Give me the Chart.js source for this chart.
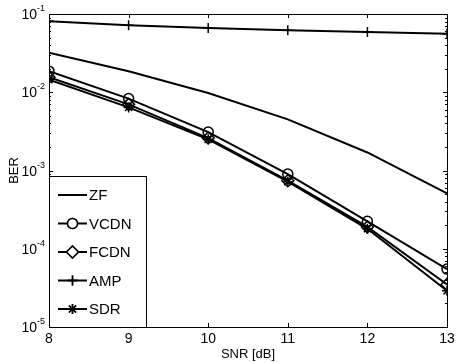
<!DOCTYPE html>
<html><head><meta charset="utf-8">
<script src="https://cdn.jsdelivr.net/npm/chart.js@4/dist/chart.umd.min.js"></script>
<style>html,body{margin:0;padding:0;background:#fff}#wrap{width:463px;height:363px}</style>
</head><body><div id="wrap"><canvas id="c" width="463" height="363"></canvas></div>
<script>
const snr = [8, 9, 10, 11, 12, 13];
const zf   = [0.032, 0.0186, 0.0098, 0.0045, 0.0017, 0.00051];
const vcdn = [0.0186, 0.0083, 0.0031, 0.00090, 0.000224, 0.000055];
const fcdn = [0.0156, 0.0070, 0.0026, 0.00074, 0.00019, 0.000035];
const amp  = [0.081, 0.072, 0.066, 0.062, 0.059, 0.056];
const sdr  = [0.0145, 0.0064, 0.0025, 0.00072, 0.00018, 0.000029];
const xTicks = [8, 9, 10, 11, 12, 13];
const yExps = [-1, -2, -3, -4, -5];
const seriesNames = ['ZF', 'VCDN', 'FCDN', 'AMP', 'SDR'];

const FONT = '"Liberation Sans", Arial, sans-serif';
function mk(name, vals, style, rad) {
  return {
    label: name,
    data: snr.map((x, i) => ({x: x, y: vals[i]})),
    borderColor: '#000', backgroundColor: 'rgba(0,0,0,0)',
    borderWidth: 2, pointStyle: style, pointRadius: rad,
    pointBorderColor: '#000', pointBackgroundColor: 'rgba(0,0,0,0)',
    pointBorderWidth: 1.5, tension: 0, fill: false
  };
}
const datasets = [
  mk(seriesNames[0], zf, false, 0),
  mk(seriesNames[1], vcdn, 'circle', 5),
  mk(seriesNames[2], fcdn, 'rectRot', 6),
  mk(seriesNames[3], amp, 'cross', 5),
  mk(seriesNames[4], sdr, 'star', 5)
];

const axesPlugin = {
  id: 'axesPlugin',
  afterDatasetsDraw(chart) {
    const ctx = chart.ctx, a = chart.chartArea;
    const xs = chart.scales.x, ys = chart.scales.y;
    ctx.save();
    ctx.strokeStyle = '#000'; ctx.lineWidth = 1;
    ctx.beginPath();
    xTicks.forEach(t => {
      const px = Math.round(xs.getPixelForValue(t)) + 0.5;
      ctx.moveTo(px, a.bottom); ctx.lineTo(px, a.bottom - 4);
      ctx.moveTo(px, a.top); ctx.lineTo(px, a.top + 4);
    });
    yExps.forEach(e => {
      const py = Math.round(ys.getPixelForValue(Math.pow(10, e))) + 0.5;
      ctx.moveTo(a.left, py); ctx.lineTo(a.left + 4, py);
      ctx.moveTo(a.right, py); ctx.lineTo(a.right - 4, py);
      if (e > -5) {
        for (let m = 2; m <= 9; m++) {
          const v = m * Math.pow(10, e - 1);
          const pm = Math.round(ys.getPixelForValue(v)) + 0.5;
          ctx.moveTo(a.left, pm); ctx.lineTo(a.left + 2, pm);
          ctx.moveTo(a.right, pm); ctx.lineTo(a.right - 2, pm);
        }
      }
    });
    ctx.stroke();
    ctx.strokeRect(Math.round(a.left) + 0.5, Math.round(a.top) + 0.5,
                   Math.round(a.right - a.left), Math.round(a.bottom - a.top));
    ctx.fillStyle = '#000';
    ctx.font = '14px ' + FONT;
    ctx.textAlign = 'center'; ctx.textBaseline = 'top';
    xTicks.forEach(t => ctx.fillText(String(t), xs.getPixelForValue(t), a.bottom + 5));
    yExps.forEach(e => {
      const py = ys.getPixelForValue(Math.pow(10, e));
      ctx.font = '9px ' + FONT;
      const sup = String(e);
      const sw = ctx.measureText(sup).width;
      ctx.textAlign = 'left'; ctx.textBaseline = 'alphabetic';
      const right = a.left - 4;
      ctx.fillText(sup, right - sw, py - 3);
      ctx.font = '14px ' + FONT;
      ctx.textAlign = 'right';
      ctx.fillText('10', right - sw, py + 5);
    });
    ctx.font = '13px ' + FONT;
    ctx.textAlign = 'center'; ctx.textBaseline = 'alphabetic';
    ctx.fillText('SNR [dB]', (a.left + a.right) / 2, 358);
    ctx.save();
    ctx.translate(18, (a.top + a.bottom) / 2);
    ctx.rotate(-Math.PI / 2);
    ctx.fillText('BER', 0, 0);
    ctx.restore();
    // legend
    const lx = Math.round(a.left) + 0.5, ly = 176.5, lw = 97, lh = Math.round(a.bottom) - 176;
    ctx.fillStyle = '#fff';
    ctx.fillRect(lx, ly, lw, lh);
    ctx.lineWidth = 1;
    ctx.strokeRect(lx, ly, lw, lh);
    const rows = [195, 223.5, 252, 280.5, 309];
    chart.data.datasets.forEach((ds, i) => {
      const y = rows[i];
      ctx.strokeStyle = '#000'; ctx.lineWidth = 2;
      ctx.beginPath(); ctx.moveTo(58, y); ctx.lineTo(87, y); ctx.stroke();
      if (ds.pointStyle) {
        ctx.lineWidth = 1.5;
        Chart.helpers.drawPoint(ctx, {pointStyle: ds.pointStyle, radius: ds.pointRadius, rotation: 0, borderWidth: 1.5}, 72.5, y);
        ctx.fillStyle = '#fff';
        if (ds.pointStyle === 'circle' || ds.pointStyle === 'rectRot') {
          ctx.fill();
        }
        ctx.stroke();
      }
      ctx.fillStyle = '#000';
      ctx.font = '15px ' + FONT;
      ctx.textAlign = 'left'; ctx.textBaseline = 'middle';
      ctx.fillText(ds.label, 89, y + 1);
    });
    ctx.restore();
  }
};

new Chart(document.getElementById('c'), {
  type: 'line',
  data: { datasets: datasets },
  options: {
    responsive: false, animation: false, devicePixelRatio: 1,
    layout: { padding: { left: 49, right: 16, top: 14, bottom: 36 } },
    plugins: { legend: { display: false }, tooltip: { enabled: false } },
    scales: {
      x: { type: 'linear', min: 8, max: 13, display: false },
      y: { type: 'logarithmic', min: 1e-5, max: 1e-1, display: false }
    }
  },
  plugins: [axesPlugin, {
    id: 'bg',
    beforeDraw(chart) { const c = chart.ctx; c.save(); c.fillStyle = '#fff'; c.fillRect(0, 0, chart.width, chart.height); c.restore(); }
  }]
});
</script>
</body></html>
